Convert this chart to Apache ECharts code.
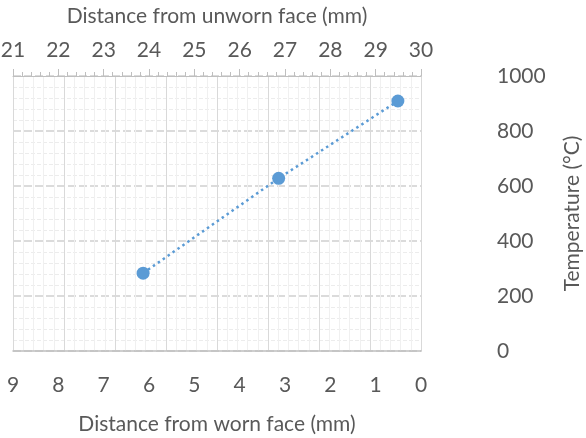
<!DOCTYPE html>
<html>
<head>
<meta charset="utf-8">
<script src="https://cdn.jsdelivr.net/npm/echarts@6/dist/echarts.min.js"></script>
<style>
  html, body { margin: 0; padding: 0; background: #ffffff; }
  #chart { width: 586px; height: 438px; }
</style>
</head>
<body>
<div id="chart"></div>
<script>
// Measured temperatures through the lining thickness
const wornFaceDistance = [6.13, 3.14, 0.51];   // mm from worn face
const temperature = [283, 628, 909];           // °C

const wornAxisRange = [0, 9];
const unwornAxisRange = [21, 30];
const tempTicks = [0, 200, 400, 600, 800, 1000];

const textColor = '#595959';
const fontFamily = 'Lato, "Open Sans", sans-serif';
const fontSize = 21;
const blue = '#5B9BD5';

const chart = echarts.init(document.getElementById('chart'));

chart.setOption({
  animation: false,
  backgroundColor: '#ffffff',
  grid: { left: 13, right: 165, top: 76, bottom: 87, containLabel: false, outerBoundsMode: 'none' },
  xAxis: [
    {
      // bottom axis: distance from worn face, counting down to 0
      type: 'value',
      position: 'bottom',
      inverse: true,
      min: wornAxisRange[0],
      max: wornAxisRange[1],
      interval: 1,
      name: 'Distance from worn face (mm)',
      nameLocation: 'middle',
      nameGap: 63,
      nameTextStyle: { color: textColor, fontSize: fontSize, fontFamily: fontFamily },
      axisLine: { show: true, lineStyle: { color: '#bfbfbf', width: 1.5 } },
      axisTick: { show: false },
      axisLabel: { color: textColor, fontSize: fontSize, fontFamily: fontFamily, margin: 24 },
      splitLine: { show: false }
    },
    {
      // top axis: distance from unworn face
      type: 'value',
      position: 'top',
      min: unwornAxisRange[0],
      max: unwornAxisRange[1],
      interval: 1,
      name: 'Distance from unworn face (mm)',
      nameLocation: 'middle',
      nameGap: 49,
      nameTextStyle: { color: textColor, fontSize: fontSize, fontFamily: fontFamily },
      axisLine: { show: true, lineStyle: { color: '#bfbfbf', width: 1 } },
      axisTick: { show: true, inside: false, length: 7, lineStyle: { color: '#bfbfbf' } },
      minorTick: { show: true, splitNumber: 5, length: 4, lineStyle: { color: '#bfbfbf' } },
      axisLabel: { color: textColor, fontSize: fontSize, fontFamily: fontFamily, margin: 15 },
      splitLine: { show: false }
    },
    {
      // background grid columns
      type: 'value',
      position: 'bottom',
      min: 0,
      max: 8,
      interval: 1,
      axisLine: { show: false },
      axisTick: { show: false },
      axisLabel: { show: false },
      splitLine: { show: true, lineStyle: { color: '#d9d9d9', width: 1 } },
      minorSplitLine: { show: true, lineStyle: { color: '#f0f0f0', width: 1 } },
      minorTick: { show: false, splitNumber: 5 }
    }
  ],
  yAxis: {
    type: 'value',
    position: 'right',
    min: tempTicks[0],
    max: tempTicks[tempTicks.length - 1],
    interval: tempTicks[1] - tempTicks[0],
    name: 'Temperature (°C)',
    nameLocation: 'middle',
    nameRotate: 90,
    nameGap: 141,
    nameTextStyle: { color: textColor, fontSize: fontSize, fontFamily: fontFamily },
    axisLine: { show: true, lineStyle: { color: '#d9d9d9' } },
    axisTick: { show: false },
    axisLabel: {
      color: textColor, fontSize: fontSize, fontFamily: fontFamily, margin: 76, align: 'left',
      formatter: (v) => String(v)
    },
    splitLine: { show: true, lineStyle: { color: '#cfcfcf', width: 1.5, type: [8, 3] } },
    minorTick: { show: false, splitNumber: 5 },
    minorSplitLine: { show: true, lineStyle: { color: '#ececec', width: 1, type: [4, 2] } }
  },
  series: [
    {
      type: 'line',
      xAxisIndex: 0,
      data: wornFaceDistance.map((d, i) => [d, temperature[i]]),
      symbol: 'circle',
      symbolSize: 13,
      itemStyle: { color: blue },
      lineStyle: { color: blue, width: 2.5, type: [2.5, 3.5] }
    }
  ]
});
</script>
</body>
</html>
